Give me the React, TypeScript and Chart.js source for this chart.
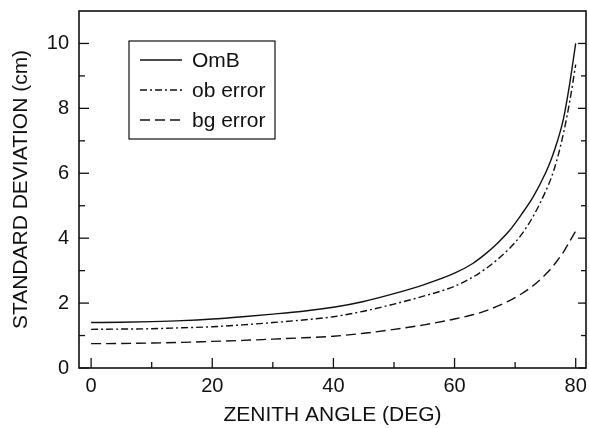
import React, { useEffect, useRef } from "react";
import { Chart, registerables } from "chart.js";

Chart.register(...registerables);

// ---- data ----
const angles = [0, 5, 10, 15, 20, 25, 30, 35, 40, 45, 50, 55, 60, 63, 65, 67, 69, 71, 73, 75, 76, 77, 78, 79, 80];
const omb = [1.4, 1.41, 1.43, 1.46, 1.51, 1.58, 1.66, 1.75, 1.87, 2.05, 2.29, 2.57, 2.92, 3.22, 3.5, 3.83, 4.22, 4.72, 5.28, 6.0, 6.45, 7.0, 7.7, 8.75, 10.0];
const obError = [1.19, 1.2, 1.21, 1.24, 1.27, 1.33, 1.4, 1.48, 1.58, 1.75, 1.97, 2.22, 2.52, 2.8, 3.04, 3.33, 3.67, 4.1, 4.68, 5.43, 5.88, 6.48, 7.25, 8.2, 9.35];
const bgError = [0.75, 0.755, 0.77, 0.79, 0.82, 0.85, 0.89, 0.93, 0.98, 1.07, 1.19, 1.33, 1.51, 1.64, 1.75, 1.9, 2.07, 2.28, 2.54, 2.88, 3.08, 3.32, 3.58, 3.9, 4.22];

const seriesLabels = ["OmB", "ob error", "bg error"];
const xMajorTicks = [0, 20, 40, 60, 80];
const xMinorTicks = [10, 30, 50, 70];
const yMajorTicks = [0, 2, 4, 6, 8, 10];
const yMinorTicks = [1, 3, 5, 7, 9];

const FONT = "'Liberation Sans', Arial, Helvetica, sans-serif";
const INK = "#111";

const toPoints = (ys: number[]) => angles.map((a, i) => ({ x: a, y: ys[i] }));

const frameTicksPlugin = {
  id: "frameTicks",
  afterDraw(chart: any) {
    const { ctx, chartArea, scales } = chart;
    const { left, right, top, bottom } = chartArea;
    ctx.save();
    ctx.strokeStyle = INK;
    ctx.setLineDash([]);
    ctx.lineWidth = 1.6;
    ctx.strokeRect(left, top, right - left, bottom - top);
    ctx.lineWidth = 1.3;
    const xs = scales.x;
    const ys = scales.y;
    const tick = (x1: number, y1: number, x2: number, y2: number) => {
      ctx.beginPath();
      ctx.moveTo(x1, y1);
      ctx.lineTo(x2, y2);
      ctx.stroke();
    };
    xMajorTicks.forEach((v) => {
      const px = xs.getPixelForValue(v);
      tick(px, bottom, px, bottom - 10);
    });
    xMinorTicks.forEach((v) => {
      const px = xs.getPixelForValue(v);
      tick(px, bottom, px, bottom - 6);
    });
    yMajorTicks.forEach((v) => {
      const py = ys.getPixelForValue(v);
      tick(left, py, left + 10, py);
      tick(right, py, right - 8, py);
    });
    yMinorTicks.forEach((v) => {
      const py = ys.getPixelForValue(v);
      tick(left, py, left + 6, py);
      tick(right, py, right - 5, py);
    });
    ctx.restore();
  },
};

const boxLegendPlugin = {
  id: "boxLegend",
  afterDatasetsDraw(chart: any, _args: any, opts: any) {
    const { ctx, chartArea } = chart;
    const x0 = chartArea.left + opts.offsetX;
    const y0 = chartArea.top + opts.offsetY;
    const w = opts.width;
    const rowH = opts.rowHeight;
    const h = rowH * chart.data.datasets.length + opts.padY * 2;
    ctx.save();
    ctx.fillStyle = "#fff";
    ctx.fillRect(x0, y0, w, h);
    ctx.strokeStyle = INK;
    ctx.lineWidth = 1.2;
    ctx.setLineDash([]);
    ctx.strokeRect(x0, y0, w, h);
    chart.data.datasets.forEach((ds: any, i: number) => {
      const cy = y0 + opts.padY + rowH * (i + 0.5);
      ctx.strokeStyle = ds.borderColor;
      ctx.lineWidth = ds.borderWidth;
      ctx.setLineDash(ds.borderDash || []);
      ctx.beginPath();
      ctx.moveTo(x0 + 11, cy);
      ctx.lineTo(x0 + 53, cy);
      ctx.stroke();
      ctx.setLineDash([]);
      ctx.fillStyle = INK;
      ctx.font = `21px ${FONT}`;
      ctx.textBaseline = "middle";
      ctx.textAlign = "left";
      ctx.fillText(ds.label, x0 + 63, cy + 1);
    });
    ctx.restore();
  },
};

export default function App() {
  const ref = useRef<HTMLCanvasElement | null>(null);

  useEffect(() => {
    document.body.style.margin = "0";
    const canvas = ref.current;
    if (!canvas) return;
    const chart = new Chart(canvas, {
      type: "line",
      data: {
        datasets: [
          {
            label: seriesLabels[0],
            data: toPoints(omb),
            borderColor: INK,
            borderWidth: 1.4,
            borderDash: [],
          },
          {
            label: seriesLabels[1],
            data: toPoints(obError),
            borderColor: INK,
            borderWidth: 1.4,
            borderDash: [7, 3, 2, 3],
          },
          {
            label: seriesLabels[2],
            data: toPoints(bgError),
            borderColor: INK,
            borderWidth: 1.4,
            borderDash: [10, 5],
          },
        ] as any,
      },
      options: {
        animation: false,
        responsive: false,
        devicePixelRatio: 1,
        parsing: false as any,
        elements: {
          point: { radius: 0 },
          line: { cubicInterpolationMode: "monotone", fill: false },
        },
        layout: { padding: { left: 0, right: 3, top: 11, bottom: 0 } },
        plugins: {
          legend: { display: false },
          tooltip: { enabled: false },
          boxLegend: { offsetX: 50, offsetY: 30, width: 146, rowHeight: 30, padY: 4 },
        } as any,
        scales: {
          x: {
            type: "linear",
            min: -2,
            max: 81.7,
            grid: { display: false, drawTicks: false },
            border: { display: false },
            ticks: { font: { size: 20, family: FONT }, color: INK, padding: 6, maxRotation: 0 },
            afterBuildTicks: (s: any) => {
              s.ticks = xMajorTicks.map((v) => ({ value: v }));
            },
            afterFit: (s: any) => {
              s.height = 60;
              s.paddingLeft = 0;
              s.paddingRight = 0;
            },
            title: {
              display: true,
              text: "ZENITH ANGLE (DEG)",
              font: { size: 21, family: FONT },
              color: INK,
              padding: { top: 0, bottom: 0 },
            },
          },
          y: {
            type: "linear",
            min: 0,
            max: 11,
            grid: { display: false, drawTicks: false },
            border: { display: false },
            ticks: { font: { size: 20, family: FONT }, color: INK, padding: 10 },
            afterBuildTicks: (s: any) => {
              s.ticks = yMajorTicks.map((v) => ({ value: v }));
            },
            afterFit: (s: any) => {
              s.width = 79;
              s.paddingTop = 0;
              s.paddingBottom = 0;
            },
            title: {
              display: true,
              text: "STANDARD DEVIATION (cm)",
              font: { size: 21, family: FONT },
              color: INK,
              padding: { top: 9, bottom: 0 },
            },
          },
        },
      } as any,
      plugins: [frameTicksPlugin, boxLegendPlugin],
    });
    return () => chart.destroy();
  }, []);

  return (
    <div style={{ width: 589, height: 428 }}>
      <canvas ref={ref} width={589} height={428} style={{ display: "block" }} />
    </div>
  );
}
